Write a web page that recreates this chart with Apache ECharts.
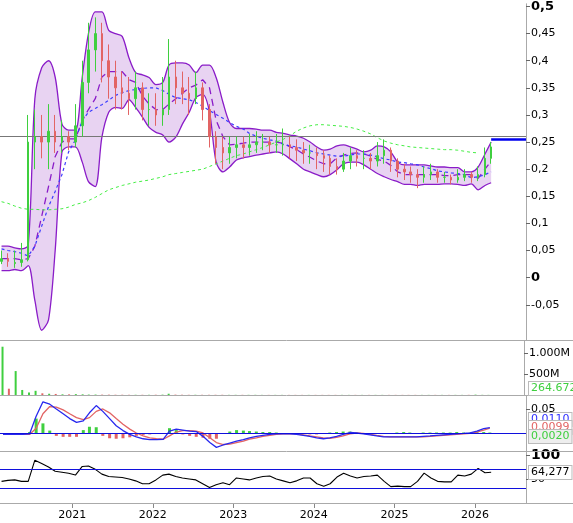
<!DOCTYPE html>
<html>
<head>
<meta charset="utf-8">
<script src="https://cdn.jsdelivr.net/npm/echarts@6/dist/echarts.min.js"></script>
<style>html,body{margin:0;padding:0;background:#fff}#c{width:573px;height:523px}</style>
</head>
<body>
<div id="c"></div>
<script>
// monthly samples, Feb 2020 .. Mar 2026
var months = [];
for (var y = 2020, m = 2; months.length < 74; m++) {
    if (m > 12) { m = 1; y++; }
    months.push(y + '-' + (m < 10 ? '0' + m : m) + '-15');
}

// [open, close, low, high]
var candles = [
    [0.03,0.035,0.025,0.05],[0.035,0.03,0.02,0.045],[0.026,0.028,0.018,0.05],[0.028,0.033,0.02,0.064],
    [0.033,0.25,0.03,0.30],[0.25,0.26,0.2,0.31],[0.26,0.25,0.22,0.30],[0.25,0.27,0.2,0.32],
    [0.27,0.25,0.23,0.30],[0.25,0.26,0.23,0.29],[0.26,0.25,0.235,0.27],[0.25,0.28,0.24,0.32],
    [0.28,0.36,0.26,0.40],[0.36,0.42,0.34,0.47],[0.42,0.45,0.38,0.48],[0.45,0.40,0.36,0.47],
    [0.40,0.37,0.33,0.43],[0.37,0.35,0.31,0.40],[0.35,0.34,0.31,0.38],[0.34,0.33,0.30,0.37],
    [0.33,0.35,0.31,0.38],[0.35,0.31,0.29,0.36],[0.31,0.31,0.28,0.34],[0.31,0.30,0.28,0.34],
    [0.30,0.31,0.28,0.37],[0.31,0.37,0.30,0.44],[0.37,0.35,0.32,0.40],[0.35,0.34,0.32,0.38],
    [0.34,0.33,0.30,0.37],[0.33,0.35,0.32,0.38],[0.35,0.31,0.29,0.36],[0.31,0.26,0.24,0.32],
    [0.26,0.24,0.21,0.27],[0.24,0.23,0.2,0.26],[0.23,0.24,0.21,0.26],[0.24,0.245,0.22,0.26],
    [0.245,0.24,0.22,0.26],[0.24,0.245,0.225,0.265],[0.245,0.25,0.23,0.27],[0.25,0.25,0.235,0.265],
    [0.25,0.245,0.23,0.26],[0.245,0.245,0.23,0.265],[0.245,0.245,0.225,0.275],[0.245,0.24,0.22,0.26],
    [0.24,0.235,0.215,0.255],[0.235,0.23,0.21,0.25],[0.23,0.23,0.21,0.245],[0.23,0.225,0.2,0.24],
    [0.225,0.22,0.195,0.235],[0.22,0.205,0.19,0.225],[0.205,0.20,0.19,0.22],[0.20,0.215,0.195,0.23],
    [0.215,0.225,0.2,0.24],[0.225,0.22,0.205,0.235],[0.22,0.22,0.2,0.235],[0.22,0.215,0.2,0.23],
    [0.215,0.225,0.205,0.25],[0.225,0.235,0.21,0.255],[0.235,0.215,0.195,0.24],[0.215,0.2,0.185,0.22],
    [0.2,0.195,0.18,0.21],[0.195,0.19,0.175,0.205],[0.19,0.185,0.165,0.2],[0.185,0.19,0.175,0.205],
    [0.19,0.195,0.18,0.21],[0.195,0.185,0.175,0.2],[0.185,0.185,0.175,0.195],[0.185,0.18,0.172,0.19],
    [0.18,0.185,0.175,0.2],[0.185,0.19,0.178,0.2],[0.19,0.185,0.175,0.195],[0.185,0.19,0.178,0.205],
    [0.19,0.22,0.185,0.24],[0.22,0.241,0.21,0.25]
];

var bbUpper = [0.058,0.058,0.055,0.053,0.06,0.33,0.387,0.40,0.37,0.283,0.272,0.272,0.37,0.45,0.49,0.49,
    0.456,0.45,0.445,0.405,0.378,0.374,0.369,0.356,0.36,0.392,0.396,0.396,0.392,0.378,0.392,0.392,0.369,
    0.323,0.286,0.275,0.275,0.275,0.274,0.272,0.272,0.268,0.266,0.263,0.261,0.257,0.25,0.241,0.235,0.237,
    0.243,0.245,0.241,0.237,0.232,0.235,0.243,0.241,0.232,0.213,0.208,0.208,0.208,0.208,0.206,0.204,0.204,
    0.203,0.203,0.195,0.195,0.204,0.228,0.25];
var bbLower = [0.013,0.013,0.015,0.013,0.022,-0.042,-0.097,-0.078,0.049,0.232,0.241,0.241,0.213,0.177,
    0.168,0.259,0.305,0.314,0.312,0.328,0.314,0.296,0.277,0.268,0.263,0.25,0.259,0.283,0.305,0.332,0.338,
    0.305,0.213,0.195,0.204,0.217,0.221,0.223,0.226,0.228,0.230,0.232,0.228,0.219,0.21,0.20,0.195,0.19,
    0.186,0.19,0.199,0.21,0.213,0.213,0.208,0.20,0.192,0.186,0.181,0.177,0.172,0.172,0.17,0.172,0.172,
    0.172,0.173,0.173,0.172,0.17,0.173,0.162,0.17,0.175];
var bbMid = [0.035,0.035,0.035,0.033,0.035,0.058,0.113,0.168,0.223,0.25,0.256,0.256,0.29,0.31,0.33,0.37,
    0.38,0.38,0.38,0.365,0.36,0.335,0.32,0.31,0.31,0.32,0.33,0.34,0.35,0.355,0.365,0.35,0.29,0.26,0.245,
    0.246,0.248,0.25,0.25,0.25,0.25,0.25,0.248,0.241,0.236,0.228,0.222,0.215,0.21,0.21,0.221,0.226,0.229,
    0.23,0.228,0.224,0.218,0.215,0.207,0.195,0.19,0.19,0.19,0.19,0.19,0.19,0.188,0.188,0.19,0.19,0.19,
    0.183,0.2,0.215];
var maBlue = [0.053,0.05,0.048,0.045,0.04,0.058,0.095,0.131,0.159,0.19,0.232,0.254,0.29,0.305,0.312,0.319,
    0.327,0.336,0.341,0.345,0.347,0.349,0.35,0.35,0.345,0.338,0.332,0.330,0.328,0.323,0.316,0.308,0.301,
    0.294,0.286,0.279,0.274,0.266,0.261,0.257,0.254,0.252,0.246,0.243,0.241,0.237,0.234,0.230,0.228,0.226,
    0.224,0.224,0.226,0.228,0.228,0.226,0.223,0.219,0.217,0.213,0.212,0.210,0.208,0.204,0.201,0.197,0.195,
    0.193,0.192,0.19,0.184,0.186,0.19,0.195];
var maGreen = [0.14,0.137,0.132,0.128,0.126,0.126,0.125,0.125,0.126,0.127,0.13,0.135,0.138,0.142,0.148,
    0.155,0.162,0.166,0.17,0.173,0.176,0.178,0.18,0.183,0.186,0.19,0.192,0.194,0.196,0.198,0.2,0.205,0.21,
    0.215,0.22,0.225,0.228,0.232,0.236,0.24,0.245,0.25,0.255,0.262,0.27,0.276,0.28,0.282,0.282,0.281,0.28,
    0.279,0.277,0.274,0.27,0.265,0.258,0.252,0.248,0.245,0.243,0.241,0.24,0.239,0.238,0.237,0.236,0.236,
    0.235,0.233,0.231,0.23,null,null];

// volume in millions
var volume = [1150,150,570,120,60,100,40,30,25,15,15,20,15,10,10,8,8,6,6,5,5,5,5,6,8,30,8,6,5,5,5,5,
    5,5,4,4,4,4,4,3,3,3,3,3,3,3,3,3,3,3,3,3,3,3,3,3,3,3,3,3,3,3,3,3,3,3,3,3,3,3,4,8,4,3];

var macdLine = [-0.003,-0.003,-0.003,-0.003,-0.002,0.035,0.065,0.06,0.05,0.04,0.03,0.022,0.025,0.042,0.057,
    0.045,0.03,0.015,0.005,-0.003,-0.008,-0.012,-0.014,-0.014,-0.013,0.004,0.008,0.006,0.004,0.003,-0.007,
    -0.02,-0.03,-0.025,-0.021,-0.017,-0.014,-0.01,-0.007,-0.005,-0.003,-0.002,-0.002,-0.002,-0.003,-0.005,
    -0.007,-0.01,-0.012,-0.01,-0.007,-0.003,0.001,0.0,-0.002,-0.004,-0.006,-0.008,-0.008,-0.008,-0.008,
    -0.008,-0.008,-0.007,-0.006,-0.005,-0.004,-0.003,-0.002,-0.001,0.0,0.004,0.009,0.011];
var signalLine = [-0.003,-0.003,-0.003,-0.003,-0.003,0.01,0.04,0.055,0.054,0.048,0.04,0.032,0.028,0.032,
    0.045,0.05,0.042,0.03,0.018,0.008,0.0,-0.006,-0.01,-0.012,-0.013,-0.006,0.002,0.005,0.005,0.004,0.0,
    -0.01,-0.02,-0.024,-0.023,-0.02,-0.017,-0.013,-0.01,-0.007,-0.005,-0.003,-0.002,-0.002,-0.002,-0.004,
    -0.006,-0.008,-0.01,-0.011,-0.009,-0.006,-0.002,0.0,-0.001,-0.003,-0.005,-0.007,-0.008,-0.008,-0.008,
    -0.008,-0.008,-0.008,-0.007,-0.006,-0.005,-0.004,-0.003,-0.002,-0.001,0.002,0.006,0.0099];
var macdHist = [0,0,0,0,0.002,0.03,0.02,0.005,-0.006,-0.008,-0.008,-0.008,0.006,0.013,0.012,-0.006,-0.011,
    -0.012,-0.011,-0.009,-0.006,-0.004,-0.003,-0.002,-0.001,0.01,0.006,-0.003,-0.006,-0.008,-0.01,-0.012,
    -0.012,-0.002,0.003,0.006,0.005,0.004,0.003,0.002,0.002,0.001,0,0,-0.001,-0.002,-0.003,-0.003,-0.002,
    0.001,0.002,0.003,0.003,0.001,-0.001,-0.002,-0.002,-0.002,-0.001,0.001,0.002,0.001,0,0.001,0.001,0.001,
    0.001,0.001,0.002,0.001,0.001,0.002,0.002,0.001];

var rsi = [45,47,48,45,45,89,82,75,66,64,62,58,76,77,70,60,55,54,53,50,46,40,40,48,58,60,55,52,50,48,40,
    32,38,42,38,52,50,48,52,55,56,50,46,42,46,52,52,40,35,40,54,62,56,52,55,56,58,45,34,35,34,34,45,62,52,
    45,44,44,58,56,60,72,63,64];

var priceTicks = [-0.05,0,0.05,0.1,0.15,0.2,0.25,0.3,0.35,0.4,0.45,0.5];

var UP = '#3fcf3f', DOWN = '#e26464', FONT = 'DejaVu Sans';
var xMin = '2020-02-08', xMax = '2026-08-20';
var last = months[months.length - 1];

function pair(arr) { return months.map(function (d, i) { return [d, arr[i]]; }); }
function comma(v) { return String(Math.round(v * 10000) / 10000).replace('.', ','); }
var bandWidth = bbUpper.map(function (u, i) { return u - bbLower[i]; });
var candleData = months.map(function (d, i) { return [d].concat(candles[i]); });
var volData = months.map(function (d, i) {
    return { value: [d, volume[i]], itemStyle: { color: candles[i][1] >= candles[i][0] ? UP : DOWN } };
});
var histData = months.map(function (d, i) {
    return { value: [d, macdHist[i]], itemStyle: { color: macdHist[i] >= 0 ? UP : DOWN } };
});

function xAx(idx, show) {
    return {
        type: 'time', gridIndex: idx, min: xMin, max: xMax,
        minInterval: 365 * 24 * 3600 * 1000, maxInterval: 366 * 24 * 3600 * 1000,
        splitLine: { show: false },
        axisLine: { show: show, lineStyle: { color: '#aaa' } },
        axisTick: { show: show, length: 5, lineStyle: { color: '#888' } },
        axisLabel: {
            show: show, color: '#000', fontFamily: FONT, fontSize: 11, margin: 7,
            formatter: function (v) { return String(new Date(v).getFullYear()); }
        }
    };
}
function yAx(idx, opt) {
    var base = {
        type: 'value', gridIndex: idx, position: 'right', scale: true,
        splitLine: { show: false },
        axisLine: { show: true, lineStyle: { color: '#aaa' } },
        axisTick: { show: true, length: 4, lineStyle: { color: '#666' } },
        axisLabel: { color: '#000', fontFamily: FONT, fontSize: 11, margin: 5 }
    };
    return Object.assign(base, opt);
}
function tag(value, text, color, bg) {
    return {
        yAxis: value,
        label: {
            show: true, position: 'end', distance: 2, formatter: text, color: color,
            backgroundColor: bg || '#fff', borderColor: '#bbb', borderWidth: 1,
            padding: [1, 2], fontFamily: FONT, fontSize: 11
        },
        lineStyle: { opacity: 0 }
    };
}
function box(x, y, text, color, bg) {
    return {
        type: 'text', left: x, top: y, z: 100,
        style: {
            text: text, fill: color, font: '11px "DejaVu Sans"', backgroundColor: bg || '#fff',
            borderColor: '#bbb', borderWidth: 1, padding: [1, 2]
        }
    };
}
function hline(y) {
    return { type: 'line', shape: { x1: 0, y1: y, x2: 573, y2: y }, style: { stroke: '#aaa', lineWidth: 1 }, z: 50 };
}

var chart = echarts.init(document.getElementById('c'), null, { renderer: 'canvas' });
chart.setOption({
    animation: false,
    grid: [
        { left: 0, right: 47, top: 0, height: 340 },
        { left: 0, right: 47, top: 341, height: 54 },
        { left: 0, right: 47, top: 396, height: 55 },
        { left: 0, right: 47, top: 452, height: 51 }
    ],
    xAxis: [xAx(0, false), xAx(1, false), xAx(2, false), xAx(3, true)],
    yAxis: [
        yAx(0, {
            min: -0.115, max: 0.505,
            axisLabel: {
                color: '#000', fontFamily: FONT, fontSize: 11, margin: 5, customValues: priceTicks,
                formatter: function (v) {
                    var s = comma(v);
                    return (v === 0 || v === 0.5) ? '{b|' + s + '}' : s;
                },
                rich: { b: { fontWeight: 'bold', fontSize: 13, fontFamily: FONT } }
            },
            axisTick: { show: true, length: 4, customValues: priceTicks, lineStyle: { color: '#666' } }
        }),
        yAx(1, {
            min: 0, max: 1286,
            axisLabel: {
                color: '#000', fontFamily: FONT, fontSize: 11, margin: 5, customValues: [500, 1000],
                formatter: function (v) { return v === 1000 ? '1.000M' : v + 'M'; }
            },
            axisTick: { show: true, length: 4, customValues: [500, 1000], lineStyle: { color: '#666' } }
        }),
        yAx(2, {
            min: -0.0375, max: 0.077,
            axisLabel: { color: '#000', fontFamily: FONT, fontSize: 11, margin: 5, customValues: [0.05], formatter: comma },
            axisTick: { show: true, length: 4, customValues: [0.05], lineStyle: { color: '#666' } }
        }),
        yAx(3, {
            min: 0, max: 106,
            axisLabel: {
                color: '#000', fontFamily: FONT, fontSize: 11, margin: 5, customValues: [50, 100],
                formatter: function (v) { return v === 100 ? '{b|100}' : String(v); },
                rich: { b: { fontWeight: 'bold', fontSize: 14, fontFamily: FONT } }
            },
            axisTick: { show: true, length: 4, customValues: [50, 100], lineStyle: { color: '#666' } }
        })
    ],
    graphic: [
        hline(340.5), hline(395.5), hline(451.5), hline(503.5),
        box(528, 381, '264.672', UP),
        box(528, 412, '0,0110', '#3030ff'),
        box(528, 420, '0,0099', DOWN),
        box(528, 429, '0,0020', UP, '#eee'),
        box(528, 465, '64,277', '#000')
    ],
    series: [
        // Bollinger fill
        { type: 'line', xAxisIndex: 0, yAxisIndex: 0, data: pair(bbLower), stack: 'bb', stackStrategy: 'all',
          symbol: 'none', smooth: 0.3, lineStyle: { opacity: 0 }, clip: false, z: 1 },
        { type: 'line', xAxisIndex: 0, yAxisIndex: 0, data: pair(bandWidth), stack: 'bb', stackStrategy: 'all',
          symbol: 'none', smooth: 0.3, lineStyle: { opacity: 0 }, areaStyle: { color: '#e8d3f2', opacity: 1 },
          clip: false, z: 1 },
        { type: 'line', xAxisIndex: 0, yAxisIndex: 0, data: pair(bbUpper), symbol: 'none', smooth: 0.3,
          lineStyle: { color: '#8a1cc8', width: 1.3 }, z: 3 },
        { type: 'line', xAxisIndex: 0, yAxisIndex: 0, data: pair(bbLower), symbol: 'none', smooth: 0.3, clip: false,
          lineStyle: { color: '#8a1cc8', width: 1.3 }, z: 3 },
        { type: 'line', xAxisIndex: 0, yAxisIndex: 0, data: pair(bbMid), symbol: 'none',
          lineStyle: { color: '#8a1cc8', width: 1.3, type: [7, 5] }, z: 4 },
        { type: 'line', xAxisIndex: 0, yAxisIndex: 0, data: pair(maBlue), symbol: 'none',
          lineStyle: { color: '#3a3aff', width: 1.2, type: [3, 3] }, z: 4 },
        { type: 'line', xAxisIndex: 0, yAxisIndex: 0, data: pair(maGreen), symbol: 'none',
          lineStyle: { color: '#44ee44', width: 1, type: [3, 3] }, z: 4,
          markLine: {
              silent: true, symbol: 'none', animation: false,
              data: [
                  { yAxis: 0.259, lineStyle: { color: '#777', width: 1, type: 'solid' }, label: { show: false } },
                  [{ coord: [last, 0.2543], lineStyle: { color: '#0000ee', width: 2.5, type: 'solid' }, label: { show: false } },
                   { coord: [xMax, 0.2543] }]
              ]
          } },
        { type: 'candlestick', xAxisIndex: 0, yAxisIndex: 0, data: candleData, barWidth: 2, z: 5,
          itemStyle: { color: UP, color0: DOWN, borderColor: UP, borderColor0: DOWN, borderWidth: 1 },
          markLine: {
              silent: true, symbol: 'none', animation: false,
              data: [
                  tag(0.2600, '0,2543', '#8a1cc8'),
                  tag(0.2410, '0,2410', '#000', '#f5c000'),
                  tag(0.2148, '0,2148', DOWN),
                  tag(0.1983, '0,1983', '#3030ff'),
                  tag(0.1752, '0,1752', '#8a1cc8')
              ]
          } },
        { type: 'bar', xAxisIndex: 1, yAxisIndex: 1, data: volData, barWidth: 2 },
        { type: 'bar', xAxisIndex: 2, yAxisIndex: 2, data: histData, barWidth: 3 },
        { type: 'line', xAxisIndex: 2, yAxisIndex: 2, data: pair(signalLine), symbol: 'none',
          lineStyle: { color: '#e26464', width: 1.3 } },
        { type: 'line', xAxisIndex: 2, yAxisIndex: 2, data: pair(macdLine), symbol: 'none',
          lineStyle: { color: '#2828ee', width: 1.3 },
          markLine: { silent: true, symbol: 'none', label: { show: false },
              lineStyle: { color: '#1010dd', width: 1.2, type: 'solid' }, data: [{ yAxis: 0 }] } },
        { type: 'line', xAxisIndex: 3, yAxisIndex: 3, data: pair(rsi), symbol: 'none',
          lineStyle: { color: '#000', width: 1.1 },
          markLine: { silent: true, symbol: 'none', label: { show: false },
              lineStyle: { color: '#1010dd', width: 1.2, type: 'solid' }, data: [{ yAxis: 70 }, { yAxis: 30 }] } }
    ]
});
</script>
</body>
</html>
